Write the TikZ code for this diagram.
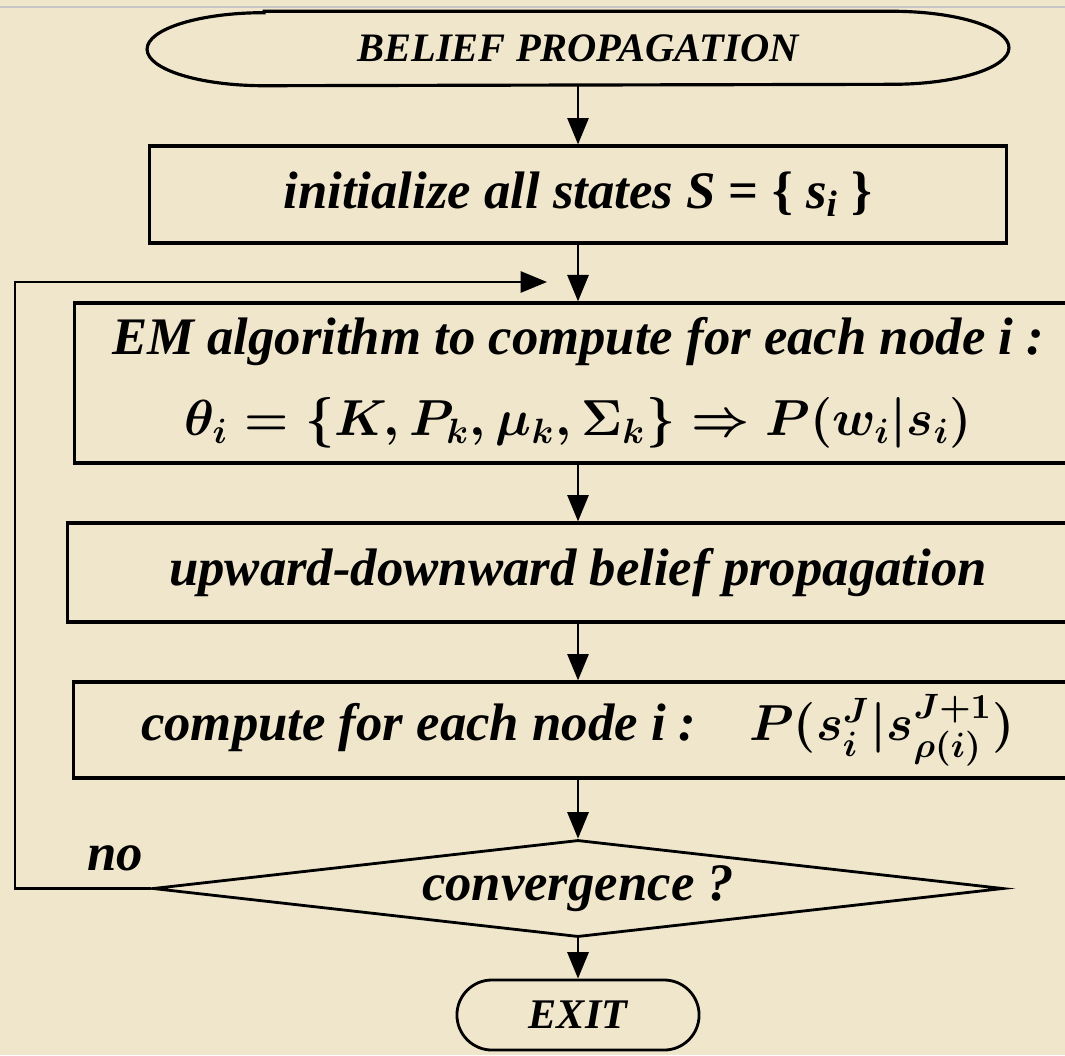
\documentclass[tikz,border=0pt]{standalone}
\usepackage[no-math]{fontspec}
\setmainfont{Liberation Serif}
\usepackage{amsmath}
\usetikzlibrary{arrows.meta, positioning, shapes.geometric, shapes.misc}
\definecolor{parchment}{HTML}{EFE6CC}
\newcommand{\mathbig}[1]{{\fontsize{14pt}{23pt}\selectfont #1}}
\tikzset{
	flowbox/.style={draw, line width=0.9pt, inner sep=0pt, font=\fontsize{15pt}{23pt}\selectfont\bfseries\itshape\boldmath},
	capsnode/.style={inner sep=0pt, font=\fontsize{11.5pt}{14pt}\selectfont\bfseries\itshape},
	decision/.style={draw, diamond, line width=0.8pt, inner sep=0pt, aspect=8.8, font=\fontsize{15pt}{18pt}\selectfont\bfseries\itshape},
	endnode/.style={draw, rounded rectangle, line width=0.8pt, inner sep=0pt, font=\fontsize{12pt}{14pt}\selectfont\bfseries\itshape},
	flowarr/.style={-{Triangle[width=6pt,length=7.5pt]}, line width=0.7pt},
}

\begin{document}
\begin{tikzpicture}[x=0.01cm, y=-0.01cm]
	\useasboundingbox[fill=parchment] (0,0) rectangle (1065,1055);
	\clip (0,0) rectangle (1065,1055);
	\draw[gray!45, line width=0.4pt] (0,7) -- (1065,7);
	% start
	\node[capsnode, minimum width=8.6cm, minimum height=0.73cm] (bp) at (578,48.5) {BELIEF PROPAGATION};
	\draw[line width=0.9pt] ([xshift=1.17cm]bp.north west) -- ([xshift=-1.17cm]bp.north east)
		arc[start angle=90, end angle=-90, x radius=1.17cm, y radius=0.365cm]
		-- ([xshift=1.17cm]bp.south west)
		arc[start angle=270, end angle=90, x radius=1.17cm, y radius=0.365cm] -- cycle;
	% steps
	\node[flowbox, minimum width=8.57cm, minimum height=0.97cm] (init) at (578,194.5) {initialize all states S \textup{= \{} s\textsubscript{i} \textup{\}}};
	\node[flowbox, minimum width=10.06cm, minimum height=1.6cm, align=center] (emstep) at (578,383) {EM algorithm to compute for each node i :\\ \mathbig{$\theta_i = \lbrace K, P_k, \mu_k, \Sigma_k\rbrace \Rightarrow P(w_i\vert s_i)$}};
	\node[flowbox, minimum width=10.2cm, minimum height=0.99cm] (updown) at (578,572.5) {upward-downward belief propagation};
	\node[flowbox, minimum width=10.08cm, minimum height=0.96cm] (comp) at (578,730) {compute for each node i :\quad\mathbig{$P(s_i^J\vert s_{\rho(i)}^{J+1})$}};
	\node[decision, minimum width=8.5cm, minimum height=0.97cm] (conv) at (578,888.5) {convergence ?};
	\node[endnode, minimum width=2.42cm, minimum height=0.7cm] (exit) at (578,1015) {EXIT};
	\node[font=\fontsize{15pt}{18pt}\selectfont\bfseries\itshape] (no) at (115,858) {no};
	% arrows
	\coordinate (loopcorner) at (15,282);
	\coordinate (loopend) at (547,282);
	\draw[flowarr] (bp.south) -- (init.north);
	\draw[flowarr] (init.south) -- (emstep.north);
	\draw[flowarr] (emstep.south) -- (updown.north);
	\draw[flowarr] (updown.south) -- (comp.north);
	\draw[flowarr] (comp.south) -- (conv.north);
	\draw[flowarr] (conv.south) -- (exit.north);
	\draw[flowarr] (conv.west) -| (loopcorner) -- (loopend);
\end{tikzpicture}
\end{document}
